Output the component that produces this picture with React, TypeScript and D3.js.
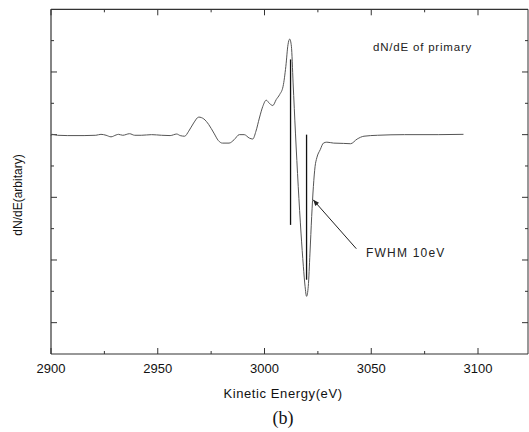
import * as d3 from "d3"

const energy = [
  2900, 2900.5, 2903, 2907.6, 2915.5, 2921, 2923.4, 2925.8, 2928.1, 2930.5, 2931.6, 2933.6,
  2936.8, 2939.2, 2942.3, 2947.1, 2951.8, 2955.8, 2958.9, 2960.5, 2962.6, 2964.5, 2966.8,
  2969.2, 2971.6, 2973.9, 2976.3, 2978.4, 2980.3, 2983.4, 2985.8, 2988.2, 2990.5, 2992.9,
  2994.5, 2996, 2997.6, 2999.2, 3000.8, 3002.4, 3003.9, 3005.5, 3007.1, 3008.7, 3010, 3011,
  3011.8, 3012.6, 3013.4, 3014.5, 3015.8, 3017.1, 3018.2, 3019, 3019.7, 3020.5, 3021.3,
  3022.1, 3022.9, 3023.7, 3024.5, 3026.1, 3027.6, 3029.2, 3032.4, 3037.1, 3040.3, 3043.4,
  3046.6, 3052.9, 3065.6, 3081.4, 3093.2,
]
const dNdE = [
  -0.03, 0.01, -0.02, -0.03, -0.03, -0.02, 0.01, -0.02, -0.07, -0.01, 0.01, -0.02,
  0.03, -0.02, -0.02, 0, -0.02, -0.03, 0.02, -0.03, -0.05, 0.11, 0.37,
  0.56, 0.5, 0.32, 0.05, -0.19, -0.27, -0.27, -0.16, 0, 0, -0.11,
  -0.14, 0.11, 0.53, 0.9, 1.1, 0.99, 0.93, 1.12, 1.28, 1.54, 2.18, 2.87,
  3.05, 2.82, 1.65, 0.05, -1.65, -3.14, -4.2, -4.84, -5.16, -4.84, -3.78,
  -2.61, -1.65, -1.01, -0.74, -0.48, -0.27, -0.24, -0.27, -0.28, -0.29, -0.14,
  -0.05, -0.02, 0, 0, 0.01,
]

// FWHM marker lines: energy, top value, bottom value
const markerE = [3012.2, 3019.7]
const markerTop = [2.4, 0]
const markerBottom = [-2.88, -4.63]

// arrow from label to curve
const arrowFrom = { e: 3043, v: -3.64 }
const arrowTo = { e: 3022.8, v: -2.08 }

const xMajor = [2900, 2950, 3000, 3050, 3100]
const xMinor = [2925, 2975, 3025, 3075]
const yTicks = [-6, -5, -4, -3, -2, -1, 0, 1, 2, 3]

export default function App() {
  const W = 529
  const H = 432
  const left = 51
  const right = 528
  const top = 9.3
  const bottom = 354

  const x = d3.scaleLinear().domain([2900, 3100]).range([left, 478])
  const y = d3.scaleLinear().domain([-7, 4]).range([bottom, top])

  const series = energy.map((e, i) => ({ e, v: dNdE[i] }))
  const line = d3
    .line<{ e: number; v: number }>()
    .x((d) => x(d.e))
    .y((d) => y(d.v))
    .curve(d3.curveMonotoneX)
  const path = line(series) || ""

  const font = "'Liberation Sans', Arial, sans-serif"
  const axisColor = "#333"

  const ax1 = x(arrowFrom.e)
  const ay1 = y(arrowFrom.v)
  const ax2 = x(arrowTo.e)
  const ay2 = y(arrowTo.v)
  const ang = Math.atan2(ay2 - ay1, ax2 - ax1)
  const hl = 6
  const hw = 2.5
  const head = [
    [ax2, ay2],
    [ax2 - hl * Math.cos(ang) + hw * Math.sin(ang), ay2 - hl * Math.sin(ang) - hw * Math.cos(ang)],
    [ax2 - hl * Math.cos(ang) - hw * Math.sin(ang), ay2 - hl * Math.sin(ang) + hw * Math.cos(ang)],
  ]

  return (
    <svg
      width={W}
      height={H}
      style={{ position: "absolute", left: 0, top: 0, background: "#fff" }}
    >
      {/* frame */}
      <line x1={left} y1={top} x2={left} y2={bottom} stroke={axisColor} strokeWidth={1.2} />
      <line x1={left} y1={bottom} x2={right} y2={bottom} stroke={axisColor} strokeWidth={1.2} />
      <line x1={left} y1={top} x2={right} y2={top} stroke={axisColor} strokeWidth={1.2} />
      <line x1={right} y1={top} x2={right} y2={bottom} stroke={axisColor} strokeWidth={1} />

      {/* x ticks, bottom and top, pointing inward */}
      {xMajor.map((t) => (
        <g key={"M" + t}>
          <line x1={x(t)} y1={bottom} x2={x(t)} y2={bottom - 6} stroke={axisColor} />
          <line x1={x(t)} y1={top} x2={x(t)} y2={top + 6} stroke={axisColor} />
          <text
            x={x(t)}
            y={bottom + 19}
            textAnchor="middle"
            fontSize={13}
            fontFamily={font}
            fill="#111"
          >
            {t}
          </text>
        </g>
      ))}
      {xMinor.map((t) => (
        <g key={"m" + t}>
          <line x1={x(t)} y1={bottom} x2={x(t)} y2={bottom - 3} stroke={axisColor} />
          <line x1={x(t)} y1={top} x2={x(t)} y2={top + 3} stroke={axisColor} />
        </g>
      ))}

      {/* y ticks, left and right, no labels */}
      {yTicks.map((t, i) => {
        const len = i % 2 === 0 ? 6 : 3
        return (
          <g key={"y" + t}>
            <line x1={left} y1={y(t)} x2={left + len} y2={y(t)} stroke={axisColor} />
            <line x1={right} y1={y(t)} x2={right - len} y2={y(t)} stroke={axisColor} />
          </g>
        )
      })}

      {/* spectrum */}
      <path d={path} fill="none" stroke="#555" strokeWidth={1} />

      {/* FWHM markers */}
      {markerE.map((e, i) => (
        <line
          key={"mk" + i}
          x1={x(e)}
          x2={x(e)}
          y1={y(markerTop[i])}
          y2={y(markerBottom[i])}
          stroke="#111"
          strokeWidth={1.3}
        />
      ))}

      {/* arrow */}
      <line x1={ax1} y1={ay1} x2={ax2} y2={ay2} stroke="#222" strokeWidth={1} />
      <polygon points={head.map((p) => p.join(",")).join(" ")} fill="#222" />

      <text x={366} y={257} fontSize={12} fontFamily={font} letterSpacing={1.2} fill="#222">
        FWHM 10eV
      </text>
      <text x={373} y={51} fontSize={11.5} fontFamily={font} letterSpacing={0.8} fill="#222">
        dN/dE of primary
      </text>

      {/* axis titles */}
      <text
        x={283}
        y={398}
        textAnchor="middle"
        fontSize={13}
        fontFamily={font}
        letterSpacing={0.6}
        fill="#111"
      >
        Kinetic Energy(eV)
      </text>
      <text
        transform={`translate(22,195) rotate(-90)`}
        textAnchor="middle"
        fontSize={12}
        fontFamily={font}
        fill="#111"
      >
        dN/dE(arbitary)
      </text>
      <text
        x={283}
        y={424}
        textAnchor="middle"
        fontSize={18}
        fontFamily="'Liberation Serif', 'Times New Roman', serif"
        fill="#111"
      >
        (b)
      </text>
    </svg>
  )
}
